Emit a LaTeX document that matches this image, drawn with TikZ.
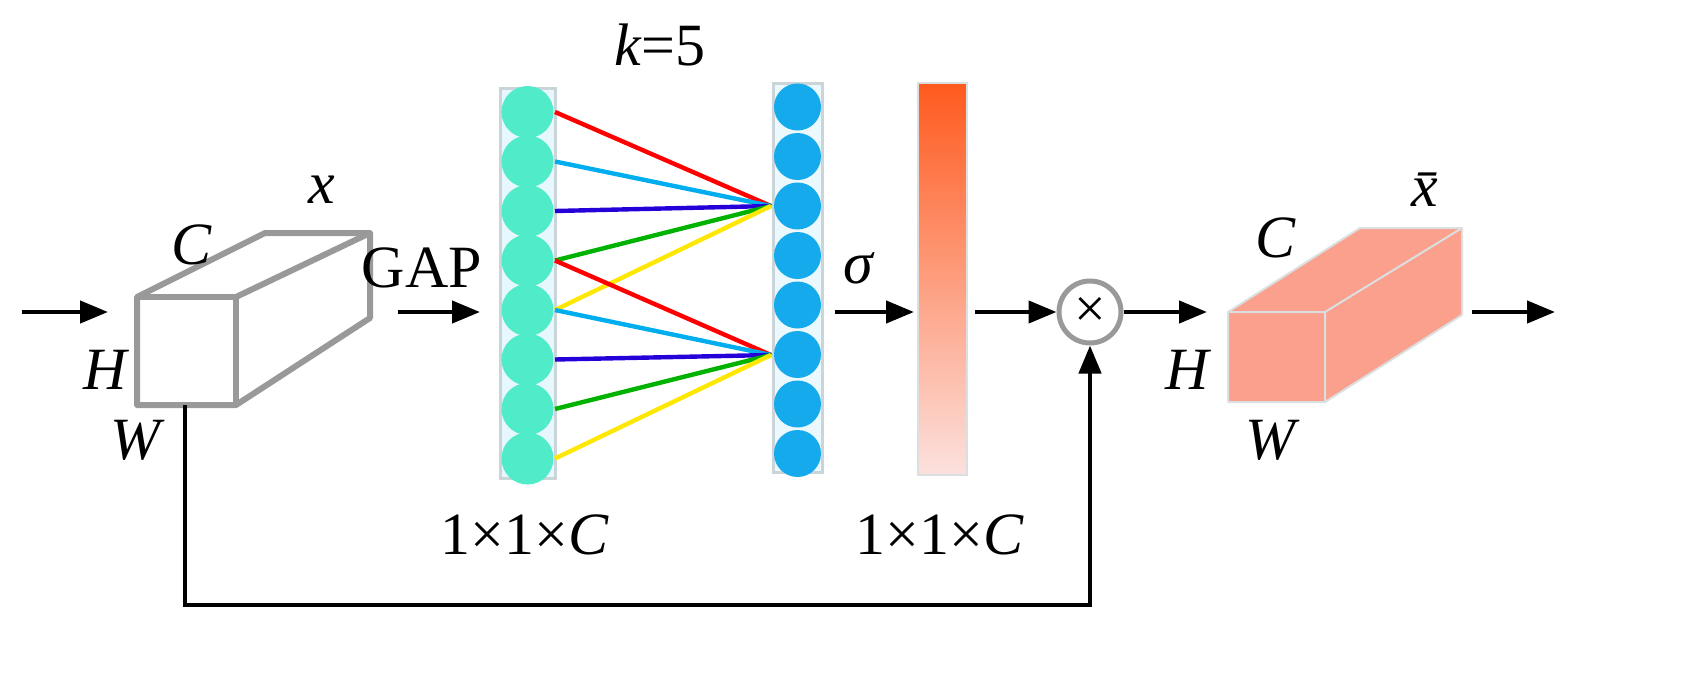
\documentclass[tikz,border=0pt]{standalone}
\usepackage{fontspec}
\setmainfont{Liberation Serif}
\usetikzlibrary{arrows.meta}
\begin{document}
\begin{tikzpicture}[x=0.5pt,y=-0.5pt,
  lbl/.style={font=\fontsize{30}{32}\selectfont\itshape},
  txt/.style={font=\fontsize{30}{32}\selectfont},
  arr/.style={-{Triangle[length=14pt,width=11pt]},line width=2.2pt},
  box/.style={draw=gray!80,line width=3pt,line join=round},
  col/.style={draw=cyan!20!gray!40,line width=1.5pt},
  ln/.style={line width=2.2pt}]
\useasboundingbox (0,0) rectangle (1686,680);
% left box
\draw[box,fill=white] (137,297) -- (265,233) -- (370,233) -- (370,318) -- (236,405) -- (137,405) -- cycle;
\draw[box] (137,297) -- (236,297) -- (236,405);
\draw[box] (236,297) -- (370,233);
\coordinate (lb) at (185,405);
\node[lbl] at (322,190) {x};
\node[lbl] at (192,245) {C};
\node[lbl] at (105,370) {H};
\node[lbl] at (135,440) {W};
\coordinate (in0) at (22,312); \coordinate (in1) at (108,312);
\draw[arr] (in0) -- (in1);
\node[txt] (gap) at (422,268) {GAP};
\coordinate (g0) at (398,312); \coordinate (g1) at (480,312);
\draw[arr] (g0) -- (g1);
% left column
\fill[cyan!10] (500,88) rectangle (555,478);
\draw[col] (500,88) rectangle (555,478);
\foreach \i in {0,...,7}{
  \fill[fill={rgb,255:red,80;green,235;blue,200}] (527.5,{112+\i*49.5}) circle (26);
  \coordinate (L\i) at (555,{112+\i*49.5});
}
% right column
\fill[cyan!8] (773,83) rectangle (822,472);
\draw[col] (773,83) rectangle (822,472);
\foreach \i in {0,...,7}{
  \fill[fill={rgb,255:red,20;green,170;blue,235}] (797.5,{107+\i*49.5}) circle (23.5);
}
\coordinate (R1) at (771,206);
\coordinate (R2) at (771,355);
\draw[ln,red] (L0) -- (R1); \draw[ln,cyan] (L1) -- (R1); \draw[ln,blue!70!violet] (L2) -- (R1);
\draw[ln,green!70!black] (L3) -- (R1); \draw[ln,yellow!90!orange] (L4) -- (R1);
\draw[ln,red] (L3) -- (R2); \draw[ln,cyan] (L4) -- (R2); \draw[ln,blue!70!violet] (L5) -- (R2);
\draw[ln,green!70!black] (L6) -- (R2); \draw[ln,yellow!90!orange] (L7) -- (R2);
\node[lbl] at (660,45) {k\upshape=5};
\node[lbl] at (858,268) {σ};
\coordinate (s0) at (835,312); \coordinate (s1) at (914,312);
\draw[arr] (s0) -- (s1);
% orange bar
\shade[top color={rgb,255:red,255;green,90;blue,30},middle color={rgb,255:red,252;green,140;blue,110},bottom color={rgb,255:red,252;green,225;blue,222}] (918,83) rectangle (967,475);
\draw[cyan!10!gray!30,line width=1pt] (918,83) rectangle (967,475);
\node[txt] at (525,535) {1×1×\textit{C}};
\node[txt] at (940,535) {1×1×\textit{C}};
\coordinate (o0) at (975,312);
\node[draw=gray!80,line width=2.5pt,circle,minimum size=31pt,inner sep=0pt,font=\fontsize{28}{28}\selectfont] (mul) at (1090,312) {×};
\draw[arr] (o0) -- (mul);
\coordinate (m1) at (1207,312);
\draw[arr] (mul) -- (m1);
% right box
\definecolor{salmon}{RGB}{250,160,140}
\draw[fill=salmon,draw=cyan!10!gray!30,line width=1pt,line join=round] (1228,312) -- (1360,228) -- (1462,228) -- (1462,315) -- (1325,402) -- (1228,402) -- cycle;
\draw[draw=cyan!10!gray!30,line width=1pt] (1228,312) -- (1325,312) -- (1325,402) (1325,312) -- (1462,228);
\node[lbl] at (1275,238) {C};
\node[lbl] at (1425,190) {\=x};
\node[lbl] at (1187,370) {H};
\node[lbl] at (1270,440) {W};
\coordinate (e0) at (1472,312); \coordinate (e1) at (1555,312);
\draw[arr] (e0) -- (e1);
% feedback
\draw[arr] (lb) -- (185,605) -- (1090,605) -- (mul);
\end{tikzpicture}
\end{document}
